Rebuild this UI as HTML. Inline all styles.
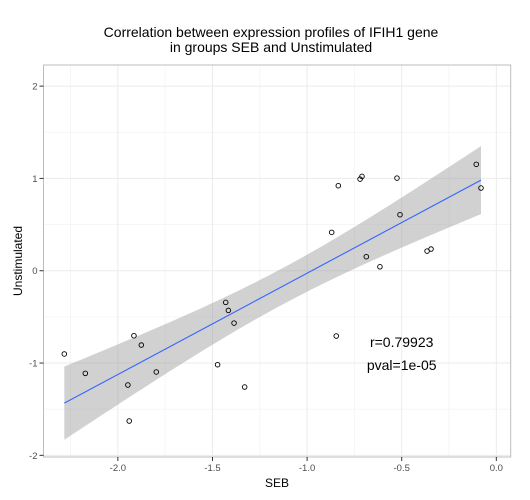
<!DOCTYPE html>
<html><head><meta charset="utf-8"><style>
body{margin:0;background:#fff;}
svg{display:block;font-family:"Liberation Sans",sans-serif;}
</style></head><body>
<svg id="chart" width="530" height="500"></svg>
<script>
const seb = [-2.283,-2.172,-1.915,-1.876,-1.947,-1.940,-1.797,-1.473,-1.430,-1.416,-1.386,-1.330,-0.870,-0.835,-0.846,-0.720,-0.710,-0.687,-0.615,-0.525,-0.509,-0.366,-0.345,-0.106,-0.081];
const unstim = [-0.902,-1.112,-0.704,-0.805,-1.238,-1.628,-1.097,-1.018,-0.343,-0.430,-0.567,-1.260,0.416,0.921,-0.707,0.993,1.022,0.152,0.043,1.004,0.607,0.213,0.235,1.153,0.896];
const xTicks = [-2.0,-1.5,-1.0,-0.5,0.0];
const xTickLabels = ["-2.0","-1.5","-1.0","-0.5","0.0"];
const yTicks = [-2,-1,0,1,2];
const yTickLabels = ["-2","-1","0","1","2"];
const annotR = "r=0.79923";
const annotP = "pval=1e-05";

const NS="http://www.w3.org/2000/svg";
const svg=document.getElementById('chart');
const L=43.5,R=510.7,T=65,B=457;
const xMin=-2.393,xMax=0.076,yMin=-2.018,yMax=2.229;
const sx=v=>L+(v-xMin)/(xMax-xMin)*(R-L);
const sy=v=>B-(v-yMin)/(yMax-yMin)*(B-T);
function mk(tag,attrs,parent){const e=document.createElementNS(NS,tag);for(const k in attrs)e.setAttribute(k,attrs[k]);(parent||svg).appendChild(e);return e;}

const panel=mk('rect',{x:L,y:T,width:R-L,height:B-T,fill:'#fff'});


// minor grid
for(let i=0;i<xTicks.length;i++){const v=xTicks[i]-0.25;if(v>xMin){const g=mk('line',{x1:sx(v),x2:sx(v),y1:T,y2:B,stroke:'#f4f4f4','stroke-width':0.8});}}
for(let i=0;i<yTicks.length;i++){const v=yTicks[i]+0.5;if(v<yMax){const g=mk('line',{x1:L,x2:R,y1:sy(v),y2:sy(v),stroke:'#f4f4f4','stroke-width':0.8});}}
// major grid
xTicks.forEach(v=>{const g=mk('line',{x1:sx(v),x2:sx(v),y1:T,y2:B,stroke:'#ebebeb','stroke-width':1});});
yTicks.forEach(v=>{const g=mk('line',{x1:L,x2:R,y1:sy(v),y2:sy(v),stroke:'#ebebeb','stroke-width':1});});

// regression
const n=seb.length;
const mx=seb.reduce((a,b)=>a+b)/n,my=unstim.reduce((a,b)=>a+b)/n;
let sxx=0,sxy=0;for(let i=0;i<n;i++){sxx+=(seb[i]-mx)**2;sxy+=(seb[i]-mx)*(unstim[i]-my);}
const b1=sxy/sxx,b0=my-b1*mx;
let sse=0;for(let i=0;i<n;i++)sse+=(unstim[i]-b0-b1*seb[i])**2;
const s=Math.sqrt(sse/(n-2)),tq=2.069;
const x0=Math.min(...seb),x1=Math.max(...seb);
const up=[],lo=[];
for(let k=0;k<=80;k++){const x=x0+(x1-x0)*k/80;const yh=b0+b1*x;const se=s*Math.sqrt(1/n+(x-mx)**2/sxx);up.push(sx(x)+','+sy(yh+tq*se));lo.unshift(sx(x)+','+sy(yh-tq*se));}
const band=mk('polygon',{points:up.concat(lo).join(' '),fill:'#999999','fill-opacity':0.45});


const fit=mk('line',{x1:sx(x0),y1:sy(b0+b1*x0),x2:sx(x1),y2:sy(b0+b1*x1),stroke:'#3366ff','stroke-width':1.1});



// points
for(let i=0;i<n;i++){const c=mk('circle',{cx:sx(seb[i]),cy:sy(unstim[i]),r:2.3,fill:'none',stroke:'#000','stroke-width':0.9});

}

const border=mk('rect',{x:L,y:T,width:R-L,height:B-T,fill:'none',stroke:'#bdbdbd','stroke-width':1});



// ticks
xTicks.forEach((v,i)=>{const t=mk('line',{x1:sx(v),x2:sx(v),y1:B,y2:B+4,stroke:'#333','stroke-width':1});
const tx=mk('text',{x:sx(v),y:B+14,'text-anchor':'middle','font-size':9.5,fill:'#4d4d4d'});tx.textContent=xTickLabels[i];});
yTicks.forEach((v,i)=>{const t=mk('line',{x1:L-4,x2:L,y1:sy(v),y2:sy(v),stroke:'#333','stroke-width':1});
const tx=mk('text',{x:L-6,y:sy(v)+3.5,'text-anchor':'end','font-size':9.5,fill:'#4d4d4d'});tx.textContent=yTickLabels[i];});

// annotations
const a1=mk('text',{x:sx(-0.5),y:sy(-0.77)+5,'text-anchor':'middle','font-size':14,fill:'#000'});a1.textContent=annotR;


const a2=mk('text',{x:sx(-0.5),y:sy(-1.02)+5,'text-anchor':'middle','font-size':14,fill:'#000'});a2.textContent=annotP;


</script>
<svg style="position:absolute;left:0;top:0" width="530" height="500">
<text x="271" y="37" text-anchor="middle" font-size="14" font-family="Liberation Sans, sans-serif">Correlation between expression profiles of IFIH1 gene</text>
<text x="271" y="52" text-anchor="middle" font-size="14" font-family="Liberation Sans, sans-serif">in groups SEB and Unstimulated</text>
<text x="277" y="487" text-anchor="middle" font-size="12" font-family="Liberation Sans, sans-serif">SEB</text>
<text transform="translate(22,261) rotate(-90)" text-anchor="middle" font-size="12" font-family="Liberation Sans, sans-serif">Unstimulated</text>
</svg>
</body></html>
